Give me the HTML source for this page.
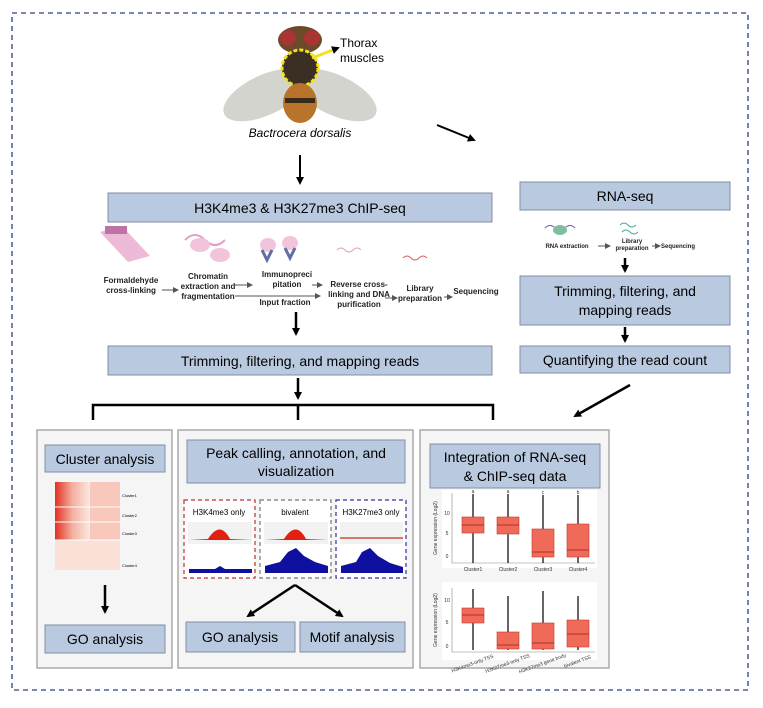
<!DOCTYPE html>
<html><head><meta charset="utf-8"><style>
body{margin:0;background:#fff;width:763px;height:703px;overflow:hidden;font-family:"Liberation Sans",sans-serif}
svg text{font-family:"Liberation Sans",sans-serif}
</style></head><body>
<svg width="763" height="703" viewBox="0 0 763 703" xmlns="http://www.w3.org/2000/svg">
<defs>
<marker id="a" markerWidth="8" markerHeight="8" refX="6" refY="4" orient="auto" markerUnits="userSpaceOnUse"><path d="M0,0 L8,4 L0,8 z" fill="#000"/></marker>
<marker id="s" markerWidth="6" markerHeight="6" refX="5" refY="3" orient="auto" markerUnits="userSpaceOnUse"><path d="M0,0 L6,3 L0,6 z" fill="#555"/></marker>
</defs>
<rect x="12" y="13" width="736" height="677" fill="none" stroke="#2d3f8a" stroke-width="1.3" stroke-dasharray="5,4"/>
<!-- fly -->
<ellipse cx="265" cy="95" rx="45" ry="20" fill="#c9c9c2" opacity="0.8" transform="rotate(-25 265 95)"/>
<ellipse cx="335" cy="95" rx="45" ry="20" fill="#c9c9c2" opacity="0.8" transform="rotate(25 335 95)"/>
<ellipse cx="300" cy="40" rx="22" ry="14" fill="#6b4a2a"/>
<circle cx="288" cy="38" r="8" fill="#a33"/><circle cx="312" cy="38" r="8" fill="#a33"/>
<ellipse cx="300" cy="68" rx="18" ry="18" fill="#3a2f22" stroke="#f2e21c" stroke-width="3" stroke-dasharray="4,2"/>
<ellipse cx="300" cy="103" rx="17" ry="20" fill="#b8742a"/>
<rect x="285" y="98" width="30" height="5" fill="#3a2a1a"/>
<line x1="312" y1="58" x2="338" y2="48" stroke="#f2e21c" stroke-width="3" marker-end="url(#a)"/>
<text x="340" y="47" font-size="12">Thorax</text><text x="340" y="62" font-size="12">muscles</text>
<text x="300" y="137" font-size="12" font-style="italic" text-anchor="middle">Bactrocera dorsalis</text>
<line x1="300" y1="155" x2="300" y2="183" stroke="#000" stroke-width="2" marker-end="url(#a)"/>
<line x1="437" y1="125" x2="474" y2="140" stroke="#000" stroke-width="2" marker-end="url(#a)"/>
<!-- boxes -->
<g stroke="#7f8ea3" stroke-width="1" fill="#b9cae0">
<rect x="108" y="193" width="384" height="29"/>
<rect x="520" y="182" width="210" height="28"/>
<rect x="108" y="346" width="384" height="29"/>
<rect x="520" y="276" width="210" height="49"/>
<rect x="520" y="346" width="210" height="27"/>
</g>
<g font-size="14" text-anchor="middle">
<text x="300" y="213">H3K4me3 &amp; H3K27me3 ChIP-seq</text>
<text x="625" y="201">RNA-seq</text>
<text x="300" y="366">Trimming, filtering, and mapping reads</text>
<text x="625" y="296">Trimming, filtering, and</text>
<text x="625" y="315">mapping reads</text>
<text x="625" y="365">Quantifying the read count</text>
</g>
<!-- chip workflow -->
<g opacity="0.8">
<path d="M100 232 L122 226 L150 256 L128 262 Z" fill="#e8a8cc"/>
<rect x="105" y="226" width="22" height="8" fill="#b0508f"/>
<path d="M185 240 q10 -10 20 0 q10 10 20 0" stroke="#d98ab8" fill="none" stroke-width="2"/>
<ellipse cx="200" cy="245" rx="10" ry="7" fill="#f0b6d4"/><ellipse cx="220" cy="255" rx="10" ry="7" fill="#f0b6d4"/>
<ellipse cx="268" cy="245" rx="8" ry="7" fill="#f0b6d4"/><path d="M262 250 l5 10 l5 -10" stroke="#3b4a8a" stroke-width="3" fill="none"/>
<ellipse cx="290" cy="243" rx="8" ry="7" fill="#f0b6d4"/><path d="M285 248 l5 10 l5 -10" stroke="#3b4a8a" stroke-width="3" fill="none"/>
<path d="M337 250 q4 -4 8 0 q4 4 8 0 q4 -4 8 0" stroke="#d98ab8" fill="none"/>
<path d="M403 258 q4 -4 8 0 q4 4 8 0 q4 -4 8 0" stroke="#d04040" fill="none"/>
</g>
<g font-size="8" font-weight="bold" text-anchor="middle" fill="#222">
<text x="131" y="283">Formaldehyde</text><text x="131" y="293">cross-linking</text>
<text x="208" y="279">Chromatin</text><text x="208" y="289">extraction and</text><text x="208" y="299">fragmentation</text>
<text x="287" y="277">Immunopreci</text><text x="287" y="287">pitation</text>
<text x="285" y="305">Input fraction</text>
<text x="359" y="287">Reverse cross-</text><text x="359" y="297">linking and DNA</text><text x="359" y="307">purification</text>
<text x="420" y="291">Library</text><text x="420" y="301">preparation</text>
<text x="476" y="294">Sequencing</text>
</g>
<g stroke="#555" stroke-width="1">
<line x1="162" y1="290" x2="178" y2="290" marker-end="url(#s)"/>
<line x1="235" y1="285" x2="252" y2="285" marker-end="url(#s)"/>
<line x1="235" y1="296" x2="320" y2="296" marker-end="url(#s)"/>
<line x1="312" y1="285" x2="322" y2="285" marker-end="url(#s)"/>
<line x1="385" y1="298" x2="397" y2="298" marker-end="url(#s)"/>
<line x1="444" y1="297" x2="452" y2="297" marker-end="url(#s)"/>
</g>
<!-- rna workflow -->
<path d="M545 228 q5 -5 10 0 q5 5 10 0 q5 -5 10 0" stroke="#6a5aa0" fill="none"/>
<ellipse cx="560" cy="230" rx="7" ry="5" fill="#7fbf9f"/>
<path d="M620 225 q4 -4 8 0 q4 4 8 0" stroke="#5a9" fill="none"/><path d="M622 232 q4 -4 8 0 q4 4 8 0" stroke="#5a9" fill="none"/>
<g font-size="6" font-weight="bold" text-anchor="middle" fill="#222">
<text x="567" y="248">RNA extraction</text><text x="632" y="243">Library</text><text x="632" y="250">preparation</text><text x="678" y="248">Sequencing</text>
</g>
<line x1="598" y1="246" x2="610" y2="246" stroke="#555" marker-end="url(#s)"/>
<line x1="652" y1="246" x2="660" y2="246" stroke="#555" marker-end="url(#s)"/>
<g stroke="#000" stroke-width="2.5">
<line x1="625" y1="258" x2="625" y2="271" marker-end="url(#a)"/>
<line x1="625" y1="327" x2="625" y2="341" marker-end="url(#a)"/>
<line x1="296" y1="312" x2="296" y2="334" marker-end="url(#a)"/>
<line x1="298" y1="378" x2="298" y2="398" marker-end="url(#a)"/>
<line x1="630" y1="385" x2="575" y2="416" marker-end="url(#a)"/>
<path d="M93 420 V405 H493 V420 M298 405 V420" fill="none"/>
</g>
<!-- panels -->
<g fill="#f5f5f5" stroke="#aaa" stroke-width="1.5">
<rect x="37" y="430" width="135" height="238"/>
<rect x="178" y="430" width="235" height="238"/>
<rect x="420" y="430" width="189" height="238"/>
</g>
<g stroke="#7f8ea3" fill="#b9cae0">
<rect x="45" y="445" width="120" height="27"/>
<rect x="45" y="625" width="120" height="28"/>
<rect x="187" y="440" width="218" height="43"/>
<rect x="186" y="622" width="109" height="30"/>
<rect x="300" y="622" width="105" height="30"/>
<rect x="430" y="444" width="170" height="44"/>
</g>
<g font-size="14" text-anchor="middle">
<text x="105" y="464">Cluster analysis</text>
<text x="105" y="644">GO analysis</text>
<text x="296" y="458">Peak calling, annotation, and</text>
<text x="296" y="476">visualization</text>
<text x="240" y="642">GO analysis</text>
<text x="352" y="642">Motif analysis</text>
<text x="515" y="462">Integration of RNA-seq</text>
<text x="515" y="481">&amp; ChIP-seq data</text>
</g>
<!-- heatmap -->
<defs><linearGradient id="h" x1="0" x2="1"><stop offset="0" stop-color="#e23020"/><stop offset="0.5" stop-color="#f3b0a0"/><stop offset="1" stop-color="#fde8e0"/></linearGradient></defs>
<rect x="55" y="482" width="35" height="88" fill="url(#h)"/>
<rect x="90" y="482" width="30" height="88" fill="#f7c8bb"/>
<rect x="55" y="540" width="65" height="30" fill="#fbe0d8"/>
<line x1="55" y1="507" x2="120" y2="507" stroke="#fff"/><line x1="55" y1="522" x2="120" y2="522" stroke="#fff"/><line x1="55" y1="540" x2="120" y2="540" stroke="#fff"/>
<g font-size="4"><text x="122" y="497">Cluster1</text><text x="122" y="517">Cluster2</text><text x="122" y="535">Cluster3</text><text x="122" y="567">Cluster4</text></g>
<line x1="105" y1="585" x2="105" y2="612" stroke="#000" stroke-width="2.5" marker-end="url(#a)"/>
<!-- tracks -->
<g fill="#fff" stroke-width="1.2" stroke-dasharray="4,3">
<rect x="184" y="500" width="71" height="78" stroke="#c03030"/>
<rect x="260" y="500" width="71" height="78" stroke="#777"/>
<rect x="336" y="500" width="70" height="78" stroke="#3030a0"/>
</g>
<g font-size="8" text-anchor="middle"><text x="219" y="515">H3K4me3 only</text><text x="295" y="515">bivalent</text><text x="371" y="515">H3K27me3 only</text></g>
<rect x="188" y="522" width="64" height="22" fill="#f2f2f2"/><rect x="264" y="522" width="64" height="22" fill="#f2f2f2"/><rect x="340" y="522" width="63" height="22" fill="#f2f2f2"/>
<path d="M189 540 L208 539 Q220 520 230 539 L252 540 Z" fill="#e02010"/>
<path d="M265 540 L284 539 Q296 520 306 539 L328 540 Z" fill="#e02010"/>
<line x1="340" y1="538" x2="403" y2="538" stroke="#d05040" stroke-width="1.5"/>
<path d="M189 573 L189 569 L215 569 L220 566 L225 569 L252 569 L252 573 Z" fill="#1010a0"/>
<path d="M265 573 L265 566 L280 562 L288 552 L296 548 L304 556 L315 562 L328 566 L328 573 Z" fill="#1010a0"/>
<path d="M341 573 L341 566 L356 562 L362 552 L370 548 L378 556 L390 563 L403 567 L403 573 Z" fill="#1010a0"/>
<g stroke="#000" stroke-width="2.5"><line x1="295" y1="585" x2="248" y2="616" marker-end="url(#a)"/><line x1="295" y1="585" x2="342" y2="616" marker-end="url(#a)"/></g>
<!-- boxplots -->
<g fill="#fff"><rect x="442" y="490" width="155" height="78"/><rect x="442" y="582" width="155" height="78"/></g>
<g stroke="#888" stroke-width="0.6" fill="none"><path d="M452 493 V563 H595"/><path d="M452 588 V652 H595"/></g>
<g stroke="#000" stroke-width="1.2">
<line x1="473" y1="494" x2="473" y2="563"/><line x1="508" y1="494" x2="508" y2="563"/><line x1="543" y1="495" x2="543" y2="563"/><line x1="578" y1="495" x2="578" y2="563"/>
<line x1="473" y1="589" x2="473" y2="650"/><line x1="508" y1="596" x2="508" y2="650"/><line x1="543" y1="591" x2="543" y2="650"/><line x1="578" y1="596" x2="578" y2="650"/>
</g>
<g fill="#f06a5a" stroke="#c0392b" stroke-width="0.6">
<rect x="462" y="517" width="22" height="16"/><rect x="497" y="517" width="22" height="17"/><rect x="532" y="529" width="22" height="28"/><rect x="567" y="524" width="22" height="33"/>
<rect x="462" y="608" width="22" height="15"/><rect x="497" y="632" width="22" height="17"/><rect x="532" y="623" width="22" height="26"/><rect x="567" y="620" width="22" height="27"/>
</g>
<g stroke="#b03020" stroke-width="1">
<line x1="462" y1="525" x2="484" y2="525"/><line x1="497" y1="525" x2="519" y2="525"/><line x1="532" y1="552" x2="554" y2="552"/><line x1="567" y1="550" x2="589" y2="550"/>
<line x1="462" y1="615" x2="484" y2="615"/><line x1="497" y1="645" x2="519" y2="645"/><line x1="532" y1="643" x2="554" y2="643"/><line x1="567" y1="634" x2="589" y2="634"/>
</g>
<g font-size="5" fill="#333" text-anchor="middle">
<text x="473" y="571">Cluster1</text><text x="508" y="571">Cluster2</text><text x="543" y="571">Cluster3</text><text x="578" y="571">Cluster4</text>
<text x="473" y="493">a</text><text x="508" y="493">a</text><text x="543" y="494">c</text><text x="578" y="494">b</text>
<text x="447" y="515">10</text><text x="447" y="535">5</text><text x="447" y="558">0</text>
<text x="447" y="602">10</text><text x="447" y="624">5</text><text x="447" y="648">0</text>
<text x="437" y="528" transform="rotate(-90 437 528)">Gene expression (Log2)</text>
<text x="437" y="620" transform="rotate(-90 437 620)">Gene expression (Log2)</text>
<text x="473" y="665" transform="rotate(-20 473 665)">H3K4me3-only TSS</text>
<text x="508" y="665" transform="rotate(-20 508 665)">H3K27me3-only TSS</text>
<text x="543" y="665" transform="rotate(-20 543 665)">H3K27me3 gene body</text>
<text x="578" y="663" transform="rotate(-20 578 663)">bivalent TSS</text>
</g>
</svg>
</body></html>
